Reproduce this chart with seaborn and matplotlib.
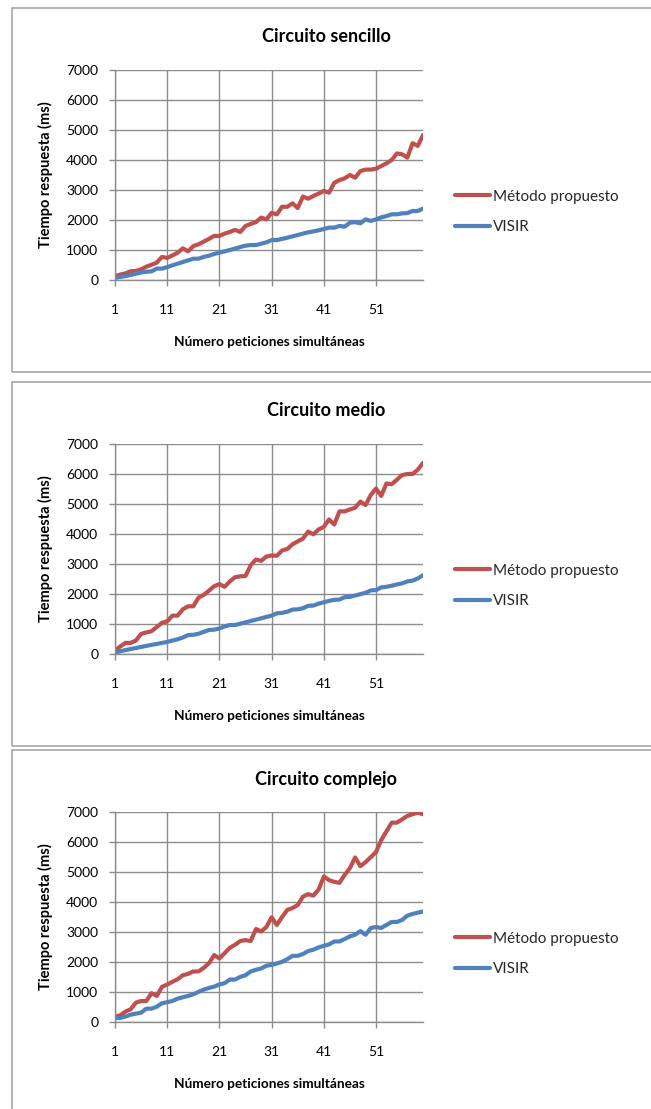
import numpy as np
import pandas as pd
import matplotlib
matplotlib.use("Agg")
import matplotlib.pyplot as plt
from matplotlib.patches import Rectangle
import seaborn as sns

# ---------------- data ----------------
x_vals = list(range(1, 61))
series_names = ["Método propuesto", "VISIR"]
titles = ["Circuito sencillo", "Circuito medio", "Circuito complejo"]
x_ticks = [1, 11, 21, 31, 41, 51]
y_ticks = [0, 1000, 2000, 3000, 4000, 5000, 6000, 7000]
x_label = "Número peticiones simultáneas"
y_label = "Tiempo respuesta (ms)"

sencillo_metodo = [130, 180, 220, 290, 300, 355, 445, 510, 580, 770,
                   735, 820, 910, 1055, 955, 1130, 1190, 1280, 1370, 1470,
                   1470, 1545, 1600, 1670, 1600, 1800, 1870, 1930, 2080, 2020,
                   2240, 2190, 2440, 2440, 2555, 2400, 2780, 2710, 2800, 2880,
                   2970, 2910, 3240, 3330, 3390, 3500, 3410, 3630, 3680, 3680,
                   3710, 3800, 3890, 4000, 4220, 4190, 4080, 4560, 4470, 4830]
sencillo_visir = [70, 100, 130, 170, 210, 250, 275, 290, 380, 380,
                  430, 490, 545, 600, 655, 710, 710, 770, 810, 870,
                  910, 955, 1000, 1045, 1100, 1145, 1165, 1165, 1210, 1255,
                  1330, 1330, 1370, 1410, 1455, 1500, 1545, 1590, 1620, 1655,
                  1700, 1745, 1745, 1800, 1780, 1910, 1930, 1890, 2020, 1970,
                  2020, 2090, 2130, 2190, 2190, 2220, 2230, 2300, 2300, 2380]

medio_metodo = [110, 250, 370, 370, 450, 670, 720, 760, 900, 1040,
                1090, 1280, 1280, 1490, 1590, 1590, 1880, 1970, 2110, 2260,
                2330, 2240, 2420, 2560, 2590, 2600, 2960, 3150, 3105, 3250,
                3285, 3275, 3450, 3500, 3655, 3755, 3845, 4080, 3990, 4150,
                4240, 4485, 4315, 4755, 4755, 4820, 4875, 5080, 4965, 5300,
                5515, 5270, 5685, 5660, 5810, 5965, 6000, 6000, 6145, 6370]
medio_visir = [50, 90, 130, 165, 200, 235, 270, 305, 335, 370,
               400, 450, 490, 550, 630, 640, 675, 740, 800, 810,
               850, 920, 965, 965, 1010, 1055, 1100, 1145, 1190, 1235,
               1280, 1355, 1370, 1410, 1480, 1490, 1525, 1605, 1615, 1680,
               1725, 1770, 1805, 1815, 1895, 1905, 1950, 1995, 2040, 2120,
               2130, 2220, 2240, 2275, 2320, 2355, 2420, 2445, 2520, 2625]

complejo_metodo = [180, 225, 345, 425, 645, 700, 700, 960, 870, 1170,
                   1250, 1340, 1425, 1560, 1605, 1685, 1685, 1805, 1960, 2230,
                   2120, 2295, 2475, 2575, 2700, 2730, 2700, 3100, 3020, 3165,
                   3490, 3235, 3500, 3735, 3800, 3900, 4180, 4260, 4215, 4415,
                   4850, 4730, 4670, 4640, 4905, 5130, 5485, 5195, 5330, 5495,
                   5665, 6065, 6355, 6645, 6645, 6755, 6870, 6925, 6980, 6925]
complejo_visir = [135, 135, 180, 245, 280, 310, 445, 445, 510, 625,
                  660, 700, 780, 825, 870, 925, 1005, 1080, 1135, 1180,
                  1250, 1295, 1415, 1415, 1505, 1560, 1685, 1740, 1785, 1875,
                  1905, 1950, 2005, 2095, 2205, 2205, 2265, 2365, 2410, 2485,
                  2540, 2585, 2685, 2685, 2765, 2855, 2910, 3030, 2910, 3135,
                  3165, 3135, 3235, 3335, 3335, 3400, 3545, 3600, 3645, 3680]

panels = [
    (titles[0], sencillo_metodo, sencillo_visir),
    (titles[1], medio_metodo, medio_visir),
    (titles[2], complejo_metodo, complejo_visir),
]

# ---------------- style ----------------
sns.set_theme(style="white")
plt.rcParams["font.family"] = ["Lato", "DejaVu Sans"]

W, H = 651, 1109
DPI = 100
fig = plt.figure(figsize=(W / DPI, H / DPI), dpi=DPI)
fig.patch.set_facecolor("white")

RED = "#C0504D"
BLUE = "#4F81BD"
GRID = "#8C8C8C"
BOX = "#A6A6A6"

def fx(px):
    return px / W

def fy(py):
    return 1 - py / H

tops = [8, 382, 750]
ax_left, ax_right = 115, 423

for (title, metodo, visir), T in zip(panels, tops):
    # outer chart box
    fig.patches.append(Rectangle((fx(12), fy(T + 364)), fx(700) - fx(12), fy(T) - fy(T + 364),
                                 transform=fig.transFigure, fill=False,
                                 edgecolor=BOX, linewidth=1.2, zorder=0))
    a_top, a_bot = T + 62, T + 272
    ax = fig.add_axes([fx(ax_left), fy(a_bot), fx(ax_right) - fx(ax_left), fy(a_top) - fy(a_bot)])

    df = pd.DataFrame({
        "x": x_vals * 2,
        "valor": list(metodo) + list(visir),
        "serie": [series_names[0]] * len(x_vals) + [series_names[1]] * len(x_vals),
    })
    sns.lineplot(data=df, x="x", y="valor", hue="serie", hue_order=series_names,
                 palette=[RED, BLUE], linewidth=3.0, ax=ax, legend=True,
                 solid_capstyle="round", solid_joinstyle="round")

    ax.set_xlim(1, 60)
    ax.set_ylim(0, 7000)
    ax.set_xticks(x_ticks)
    ax.set_yticks(y_ticks)
    ax.set_xticklabels([str(t) for t in x_ticks])
    ax.set_yticklabels([str(t) for t in y_ticks])
    ax.grid(True, color=GRID, linewidth=1.0)
    ax.set_axisbelow(True)
    for s in ["top", "right"]:
        ax.spines[s].set_visible(False)
    for s in ["left", "bottom"]:
        ax.spines[s].set_color(GRID)
        ax.spines[s].set_linewidth(1.0)
    ax.tick_params(axis="y", which="major", direction="out", length=4, width=1,
                   color=GRID, pad=8, labelsize=10, labelcolor="black", left=True)
    ax.tick_params(axis="x", which="major", direction="out", length=4, width=1,
                   color=GRID, pad=13, labelsize=10, labelcolor="black", bottom=True)
    ax.set_xlabel("")
    ax.set_ylabel("")

    # labels placed in figure pixel positions
    fig.text(fx(326), fy(T + 29), title, ha="center", va="center",
             fontsize=13, fontweight="bold", color="black")
    fig.text(fx(45), fy((a_top + a_bot) / 2), y_label, ha="center", va="center",
             rotation=90, fontsize=10.5, fontweight="bold", color="black")
    fig.text(fx((ax_left + ax_right) / 2), fy(T + 334), x_label, ha="center", va="center",
             fontsize=9.8, fontweight="bold", color="black")

    handles, labels = ax.get_legend_handles_labels()
    fs = 11
    fs_px = fs * DPI / 72
    leg = ax.legend(handles, labels, loc="center left",
                    bbox_to_anchor=(fx(455), fy(T + 204)), bbox_transform=fig.transFigure,
                    frameon=False, fontsize=fs, borderpad=0, borderaxespad=0,
                    handlelength=35 / fs_px, handletextpad=0.2, labelspacing=1.1)
    for line in leg.get_lines():
        line.set_linewidth(3.0)

fig.savefig("out.png", dpi=DPI, facecolor="white")
